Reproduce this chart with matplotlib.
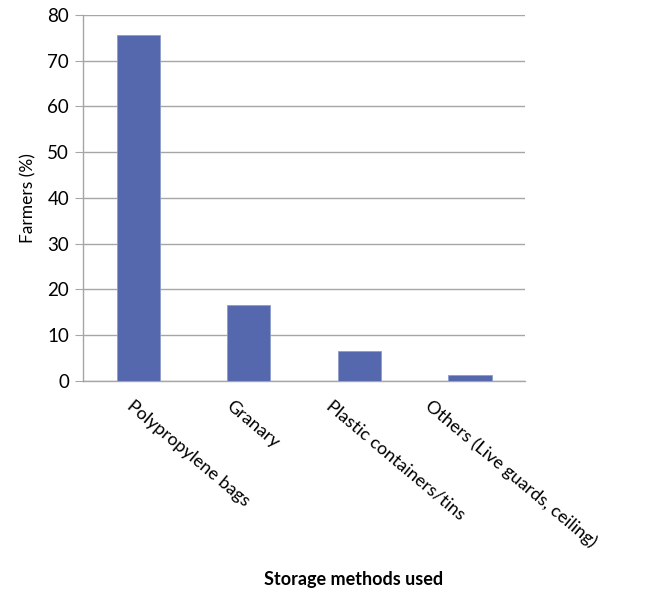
import matplotlib.pyplot as plt
from matplotlib.transforms import ScaledTranslation

categories = ['Polypropylene bags', 'Granary', 'Plastic containers/tins',
              'Others (Live guards, ceiling)']
farmers_pct = [75.6, 16.5, 6.5, 1.2]

plt.rcParams['font.family'] = ['Lato', 'DejaVu Sans']

fig = plt.figure(figsize=(6.7, 5.96), dpi=100)
ax = fig.add_axes([0.124, 0.361, 0.66, 0.614])

x = range(len(categories))
ax.bar(x, farmers_pct, width=0.39, color='#5568AE', edgecolor='#8E9CCB',
       linewidth=0.6, zorder=3)

ax.set_xlim(-0.5, len(categories) - 0.5)
ax.set_ylim(0, 80)
ax.set_yticks(range(0, 81, 10))
ax.yaxis.grid(True, color='#A6A6A6', linewidth=1.0, zorder=0)

for side in ['top', 'right']:
    ax.spines[side].set_visible(False)
ax.spines['left'].set_color('#A6A6A6')
ax.spines['bottom'].set_color('#A6A6A6')
ax.spines['left'].set_linewidth(1.0)
ax.spines['bottom'].set_linewidth(1.0)

ax.tick_params(axis='y', length=6, color='#A6A6A6', labelsize=13.5, pad=4)
ax.tick_params(axis='x', length=0, pad=12)
ax.set_xticks(list(x))
ax.set_xticklabels(categories, rotation=-40, ha='left', va='top',
                   rotation_mode='anchor', fontsize=13)

# excel packs the rotated labels a little tighter than the ticks
for i, lbl in enumerate(ax.get_xticklabels()):
    shift = -(4 + 11 * i) / 100.0
    lbl.set_transform(lbl.get_transform() +
                      ScaledTranslation(shift, 0, fig.dpi_scale_trans))

ax.set_ylabel('Farmers (%)', fontsize=12.5, labelpad=8)
fig.text(0.527, 0.027, 'Storage methods used', ha='center', va='center',
         fontsize=13, fontweight='bold')

fig.savefig('out.png', dpi=100, facecolor='white')
